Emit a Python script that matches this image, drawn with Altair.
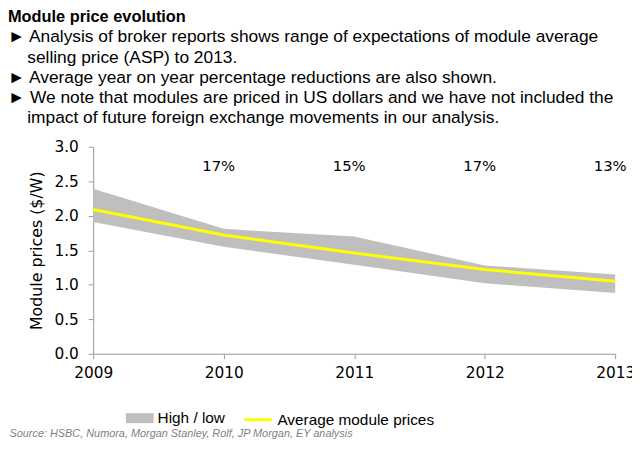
import altair as alt
import pandas as pd

years = [2009, 2010, 2011, 2012, 2013]
high = [2.39, 1.81, 1.70, 1.28, 1.15]
low = [1.91, 1.55, 1.29, 1.02, 0.88]
average = [2.09, 1.72, 1.46, 1.22, 1.05]
reductions = ["", "17%", "15%", "17%", "13%"]
y_ticks = [0.0, 0.5, 1.0, 1.5, 2.0, 2.5, 3.0]

df = pd.DataFrame({"year": years, "high": high, "low": low,
                   "avg": average, "pct": reductions})

indent = "\u200b" + "\u00a0" * 4
header = [
    "\u25ba  Analysis of broker reports shows range of expectations of module average",
    indent + "selling price (ASP) to 2013.",
    "\u25ba  Average year on year percentage reductions are also shown.",
    "\u25ba  We note that modules are priced in US dollars and we have not included the",
    indent + "impact of future foreign exchange movements in our analysis.",
]

txt_font = "Liberation Sans"
ax_font = "DejaVu Sans"

x_axis = alt.Axis(values=years, format="d", grid=False, labelFlush=False,
                  title="Source: HSBC, Numora, Morgan Stanley, Rolf, JP Morgan, EY analysis",
                  titleX=-85, titleY=84, titleAlign="left",
                  titleBaseline="alphabetic", titleFont="Liberation Sans",
                  titleFontStyle="italic", titleFontWeight="normal",
                  titleFontSize=11, titleColor="#7f7f7f")
y_axis = alt.Axis(values=y_ticks, format=".1f", grid=False, labelOverlap=False,
                  labelBound=False, title="Module prices ($/W)")
x_scale = alt.Scale(domain=[2009, 2013], nice=False)
y_scale = alt.Scale(domain=[0, 3], nice=False)

band = alt.Chart(df).mark_area(color="#bfbfbf").encode(
    x=alt.X("year:Q", scale=x_scale, axis=x_axis),
    y=alt.Y("low:Q", scale=y_scale, axis=y_axis),
    y2="high:Q",
    fill=alt.Fill("label:N", scale=alt.Scale(domain=["High / low"], range=["#bfbfbf"]),
                  legend=alt.Legend(orient="none", legendX=33, legendY=260, title=None,
                                    symbolType="M-1,-0.36H1V0.36H-1Z", symbolSize=784,
                                    symbolStrokeWidth=0)),
).transform_calculate(label="'High / low'")

line = alt.Chart(df).mark_line(strokeWidth=3).encode(
    x=alt.X("year:Q", scale=x_scale, axis=x_axis),
    y=alt.Y("avg:Q", scale=y_scale, axis=y_axis),
    stroke=alt.Stroke("label:N", scale=alt.Scale(domain=["Average module prices"], range=["#ffff00"]),
                      legend=alt.Legend(orient="none", legendX=151, legendY=260, title=None,
                                        symbolType="stroke", symbolSize=784,
                                        symbolStrokeWidth=3)),
).transform_calculate(label="'Average module prices'")

labels = alt.Chart(df).mark_text(font=ax_font, fontSize=15, dx=-5, color="#000000").encode(
    x=alt.X("year:Q", scale=x_scale, axis=x_axis),
    y=alt.Y(datum=2.72, type="quantitative", scale=y_scale, axis=y_axis),
    text="pct:N",
)

chart = alt.layer(band, line, labels).properties(
    width=527,
    height=209,
    padding={"left": 86, "top": 138, "right": 17, "bottom": 86},
    autosize=alt.AutoSizeParams(type="none"),
    title=alt.Title(
        "Module price evolution",
        subtitle=header,
        anchor="start",
        frame="group",
        dx=-86,
        offset=13,
        font=txt_font,
        fontSize=16.5,
        fontWeight="bold",
        color="#000000",
        subtitleFont=txt_font,
        subtitleFontSize=17.5,
        subtitleColor="#000000",
        subtitleLineHeight=20.5,
        subtitlePadding=3,
    ),
).configure_view(stroke=None).configure_axis(
    domainColor="#999999",
    tickColor="#999999",
    tickSize=5,
    labelFont=ax_font,
    labelFontSize=15.5,
    labelColor="#000000",
    titleFont=ax_font,
    titleFontSize=16,
    titleFontWeight="normal",
    titleColor="#000000",
    labelOverlap=False,
).configure_axisY(labelPadding=10, titlePadding=10).configure_axisX(
    labelPadding=7
).configure_legend(
    labelFont="Liberation Sans",
    labelFontSize=15.5,
    labelColor="#000000",
)

chart.save("out.html", embed_options={"renderer": "svg", "actions": False})
